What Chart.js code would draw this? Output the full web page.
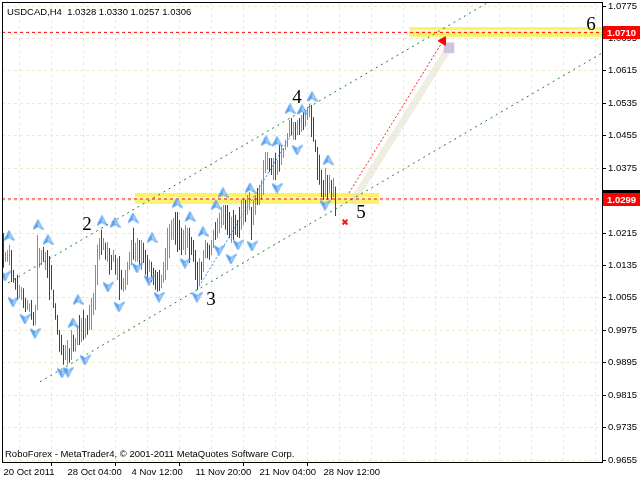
<!DOCTYPE html>
<html>
<head>
<meta charset="utf-8">
<script src="https://cdn.jsdelivr.net/npm/chart.js@4.4.1/dist/chart.umd.min.js"></script>
<style>
  html, body { margin: 0; padding: 0; background: #fff; }
  #wrap { width: 640px; height: 480px; }
</style>
</head>
<body>
<div id="wrap"><canvas id="chart" width="640" height="480"></canvas></div>
<script>
// USDCAD H4 bars, 20 Oct - 29 Nov 2011
const highs = [
  1.0215, 1.0168, 1.0173, 1.0186, 1.0173, 1.0124, 1.0104, 1.0112, 1.0087, 1.0082,
  1.0079, 1.0055, 1.0050, 1.0042, 1.0050, 1.0020, 1.0038, 1.0210, 1.0178, 1.0173,
  1.0181, 1.0168, 1.0173, 1.0158, 1.0136, 1.0075, 1.0042, 1.0013, 0.9976, 0.9964,
  0.9939, 0.9939, 0.9951, 0.9931, 0.9976, 0.9964, 0.9956, 0.9988, 1.0013, 1.0005,
  1.0025, 1.0005, 1.0013, 1.0038, 1.0055, 1.0067, 1.0136, 1.0186, 1.0203, 1.0223,
  1.0203, 1.0191, 1.0193, 1.0178, 1.0161, 1.0173, 1.0161, 1.0153, 1.0158, 1.0124,
  1.0104, 1.0124, 1.0144, 1.0168, 1.0198, 1.0228, 1.0191, 1.0203, 1.0198, 1.0198,
  1.0191, 1.0173, 1.0161, 1.0149, 1.0144, 1.0129, 1.0124, 1.0119, 1.0124, 1.0112,
  1.0144, 1.0178, 1.0228, 1.0237, 1.0247, 1.0252, 1.0267, 1.0267, 1.0247, 1.0228,
  1.0223, 1.0235, 1.0228, 1.0228, 1.0205, 1.0198, 1.0173, 1.0144, 1.0153, 1.0144,
  1.0173, 1.0198, 1.0191, 1.0186, 1.0198, 1.0223, 1.0242, 1.0252, 1.0265, 1.0279,
  1.0284, 1.0284, 1.0284, 1.0267, 1.0255, 1.0272, 1.0260, 1.0247, 1.0279, 1.0297,
  1.0302, 1.0297, 1.0309, 1.0316, 1.0279, 1.0297, 1.0309, 1.0326, 1.0334, 1.0346,
  1.0395, 1.0415, 1.0415, 1.0400, 1.0400, 1.0400, 1.0413, 1.0395, 1.0437, 1.0432,
  1.0425, 1.0445, 1.0462, 1.0494, 1.0499, 1.0489, 1.0489, 1.0494, 1.0499, 1.0506,
  1.0514, 1.0519, 1.0526, 1.0533, 1.0531, 1.0501, 1.0445, 1.0427, 1.0408, 1.0371,
  1.0346, 1.0376, 1.0358, 1.0358, 1.0346, 1.0351, 1.0330
];
const lows = [
  1.0129, 1.0144, 1.0144, 1.0136, 1.0094, 1.0092, 1.0075, 1.0050, 1.0055, 1.0050,
  1.0030, 1.0020, 1.0025, 1.0020, 1.0001, 0.9986, 0.9988, 1.0025, 1.0129, 1.0136,
  1.0144, 1.0124, 1.0104, 1.0050, 1.0075, 1.0030, 1.0001, 0.9964, 0.9922, 0.9914,
  0.9890, 0.9902, 0.9890, 0.9895, 0.9902, 0.9922, 0.9922, 0.9939, 0.9939, 0.9946,
  0.9951, 0.9956, 0.9964, 0.9976, 0.9976, 1.0013, 1.0025, 1.0087, 1.0149, 1.0161,
  1.0173, 1.0149, 1.0144, 1.0112, 1.0124, 1.0144, 1.0112, 1.0099, 1.0050, 1.0075,
  1.0070, 1.0075, 1.0087, 1.0124, 1.0136, 1.0149, 1.0144, 1.0144, 1.0136, 1.0124,
  1.0141, 1.0112, 1.0094, 1.0119, 1.0094, 1.0087, 1.0075, 1.0070, 1.0072, 1.0079,
  1.0092, 1.0099, 1.0124, 1.0153, 1.0198, 1.0198, 1.0186, 1.0168, 1.0173, 1.0161,
  1.0173, 1.0161, 1.0178, 1.0141, 1.0161, 1.0144, 1.0099, 1.0075, 1.0087, 1.0099,
  1.0119, 1.0153, 1.0153, 1.0149, 1.0161, 1.0178, 1.0198, 1.0203, 1.0215, 1.0228,
  1.0235, 1.0223, 1.0210, 1.0203, 1.0191, 1.0198, 1.0210, 1.0205, 1.0203, 1.0223,
  1.0235, 1.0242, 1.0260, 1.0272, 1.0198, 1.0235, 1.0260, 1.0284, 1.0284, 1.0297,
  1.0309, 1.0363, 1.0371, 1.0366, 1.0358, 1.0346, 1.0346, 1.0358, 1.0366, 1.0383,
  1.0400, 1.0420, 1.0427, 1.0452, 1.0457, 1.0445, 1.0445, 1.0457, 1.0457, 1.0464,
  1.0469, 1.0477, 1.0494, 1.0501, 1.0452, 1.0440, 1.0415, 1.0346, 1.0334, 1.0304,
  1.0297, 1.0304, 1.0297, 1.0314, 1.0297, 1.0304, 1.0257
];
// u = bullish bar, d = bearish bar
const dirs = ('duuudddduu' + 'dduudduuuu' + 'dudddddddd' + 'duududuudu' +
  'duduuuuuud' + 'ududdududd' + 'uuuuuduudu' + 'dddudddddu' + 'uuuuuudddd' +
  'uuudddddud' + 'uudduuduuu' + 'uddduddddu' + 'uduuduuduu' + 'uuuddududu' +
  'uuuudududu' + 'duuudddddd' + 'dududud').split('');

// time axis (bar index -> label)
const xTickIdx = [0, 32, 64, 96, 128, 160];
const xTickText = ['20 Oct 2011', '28 Oct 04:00', '4 Nov 12:00', '11 Nov 20:00', '21 Nov 04:00', '28 Nov 12:00'];
const yTickVals = [1.0775, 1.0695, 1.0615, 1.0535, 1.0455, 1.0375, 1.0295, 1.0215,
  1.0135, 1.0055, 0.9975, 0.9895, 0.9815, 0.9735, 0.9655];

// fractals (bar index, price)
const upX = [2.75, 17.25, 22.25, 37.25, 34.75, 49.25, 55.75, 64.75, 74.25, 86.75, 93.25,
  99.75, 106.25, 109.75, 123.25, 131.25, 136.75, 143.25, 149.25, 154.25, 162.25];
const upY = [1.0208, 1.0235, 1.0198, 1.0050, 0.9993, 1.0245, 1.0240, 1.0252, 1.0203, 1.0289, 1.0255,
  1.0218, 1.0284, 1.0314, 1.0326, 1.0442, 1.0440, 1.0521, 1.0519, 1.0551, 1.0395];
const downX = [0.75, 4.75, 10.75, 15.75, 29.25, 32.25, 40.75, 52.25, 57.75, 66.75, 72.75,
  77.75, 90.75, 96.75, 107.75, 113.75, 117.25, 124.25, 136.75, 146.75, 160.75];
const downY = [1.0109, 1.0045, 1.0003, 0.9968, 0.9870, 0.9872, 0.9902, 1.0082, 1.0033, 1.0129, 1.0099,
  1.0057, 1.0141, 1.0057, 1.0173, 1.0151, 1.0186, 1.0183, 1.0326, 1.0420, 1.0284];

// drawn objects
const upperChannel = [[2.25, 1.0092], [242, 1.0783]];
const lowerChannel = [[18.25, 0.9848], [299.25, 1.0659]];
const zigzag = [[96.75, 1.0075], [153.75, 1.0536]];
const levels = [1.0710, 1.0299];
const bandFrom = [202.75, 65.75];
const bandTo = [299.25, 187.75];
const bandHi = [1.0723, 1.0314];
const bandLo = [1.0699, 1.0287];
const targetLine = [[172.75, 1.0314], [219.75, 1.0689]];
const shadowLine = [[174.25, 1.0289], [222.75, 1.0672]];
const crossPt = [[170.75, 1.0242]];
const waveText = ['2', '3', '4', '5', '6'];
const waveX = [41.75, 103.75, 146.75, 178.75, 293.75];
const waveY = [1.0223, 1.0038, 1.0536, 1.0252, 1.0716];
const bidPrice = 1.0306;

const pts = arr => arr.map(([x, y]) => ({ x, y }));

function fractalIcon(up) {
  const c = document.createElement('canvas');
  c.width = 11; c.height = 11;
  const g = c.getContext('2d');
  if (!up) { g.translate(0, 11); g.scale(1, -1); }
  const shape = () => {
    g.beginPath();
    g.moveTo(5.5, 0.5); g.lineTo(10.5, 10); g.lineTo(5.5, 7); g.lineTo(0.5, 10); g.closePath();
  };
  shape();
  g.fillStyle = '#b5d8fb';
  g.fill();
  g.beginPath();
  g.moveTo(5.5, 0.5); g.lineTo(5.5, 7); g.lineTo(0.5, 10); g.closePath();
  g.fillStyle = '#5aa3ef';
  g.fill();
  shape();
  g.strokeStyle = '#4f9cee';
  g.lineWidth = 1;
  g.stroke();
  return c;
}

const FONT = '"Liberation Sans", Arial, sans-serif';
Chart.defaults.font.family = FONT;
Chart.defaults.font.size = 9.5;
Chart.defaults.color = '#000';

const overlay = {
  id: 'overlay',
  beforeDatasetsDraw(chart) {
    const { ctx, chartArea: a, scales: { x, y } } = chart;
    ctx.save();
    ctx.beginPath();
    ctx.rect(a.left, a.top, a.right - a.left, a.bottom - a.top);
    ctx.clip();
    for (let k = 0; k < bandFrom.length; k++) {
      const x0 = x.getPixelForValue(bandFrom[k]);
      const x1 = x.getPixelForValue(bandTo[k]);
      const y0 = y.getPixelForValue(bandHi[k]);
      const y1 = y.getPixelForValue(bandLo[k]);
      ctx.fillStyle = '#f9f36a';
      ctx.fillRect(x0, y0, x1 - x0, y1 - y0);
      const yl = Math.round(y.getPixelForValue(levels[k]));
      ctx.fillStyle = '#fcf9c8';
      ctx.fillRect(x0, yl - 2, x1 - x0, 2);
    }
    ctx.restore();
  },
  afterDatasetsDraw(chart) {
    const { ctx, scales: { x, y } } = chart;
    ctx.save();
    ctx.fillStyle = '#000';
    ctx.font = '19px "Liberation Serif", "Times New Roman", serif';
    ctx.textAlign = 'center';
    ctx.textBaseline = 'alphabetic';
    waveText.forEach((t, k) => {
      ctx.fillText(t, x.getPixelForValue(waveX[k]), y.getPixelForValue(waveY[k]));
    });
    ctx.font = '9.5px ' + FONT;
    ctx.textAlign = 'left';
    ctx.fillText('USDCAD,H4  1.0328 1.0330 1.0257 1.0306', 7, 14.5);
    ctx.fillText('RoboForex - MetaTrader4, \u00a9 2001-2011 MetaQuotes Software Corp.', 5, 457);
    ctx.restore();
  },
  afterDraw(chart) {
    const { ctx, chartArea: a, scales: { y } } = chart;
    ctx.save();
    ctx.strokeStyle = '#000';
    ctx.lineWidth = 1;
    ctx.strokeRect(a.left + 0.5, a.top + 0.5, a.right - a.left, a.bottom - a.top);
    const tag = (price, bg) => {
      const yc = Math.round(y.getPixelForValue(price));
      ctx.fillStyle = bg;
      ctx.fillRect(a.right + 1, yc - 6, 640 - a.right - 1, 13);
      ctx.fillStyle = '#fff';
      ctx.font = 'bold 9.5px ' + FONT;
      ctx.textAlign = 'left';
      ctx.textBaseline = 'middle';
      ctx.fillText(price.toFixed(4), a.right + 5, yc + 1);
    };
    tag(bidPrice, '#000');
    levels.forEach(p => tag(p, '#ff0000'));
    ctx.restore();
  }
};

const bars = highs.map((h, i) => ({ x: i, y: [lows[i], h] }));
const barColors = dirs.map(d => d === 'u' ? '#22d822' : '#e00000');

new Chart(document.getElementById('chart'), {
  type: 'bar',
  data: {
    datasets: [
      {
        type: 'line', order: 1, data: pts(targetLine),
        borderColor: '#ff2020', borderWidth: 1, borderDash: [2, 2],
        pointRadius: [0, 5], pointStyle: 'triangle', pointRotation: 32,
        pointBackgroundColor: '#ff0000', pointBorderColor: '#ff0000'
      },
      {
        type: 'scatter', order: 1, data: pts(crossPt),
        pointStyle: 'crossRot', pointRadius: 3.5, borderWidth: 2,
        borderColor: '#ff1010', backgroundColor: '#ff1010'
      },
      {
        type: 'scatter', order: 2, data: upX.map((v, k) => ({ x: v, y: upY[k] })),
        pointStyle: fractalIcon(true)
      },
      {
        type: 'scatter', order: 2, data: downX.map((v, k) => ({ x: v, y: downY[k] })),
        pointStyle: fractalIcon(false)
      },
      {
        type: 'line', order: 3, data: pts(upperChannel),
        borderColor: '#1e7a3c', borderWidth: 1, borderDash: [2, 4], pointRadius: 0
      },
      {
        type: 'line', order: 3, data: pts(lowerChannel),
        borderColor: '#1e7a3c', borderWidth: 1, borderDash: [2, 4], pointRadius: 0
      },
      ...levels.map(p => ({
        type: 'line', order: 4, data: [{ x: -0.75, y: p }, { x: 299.25, y: p }],
        borderColor: '#ff0000', borderWidth: 1, borderDash: [3, 3], pointRadius: 0
      })),
      {
        order: 5, data: bars, backgroundColor: barColors,
        barThickness: 1, borderWidth: 0, inflateAmount: 0
      },
      {
        type: 'line', order: 6, data: pts(zigzag),
        borderColor: '#3c8ce8', borderWidth: 1, borderDash: [2, 2], pointRadius: 0
      },
      {
        type: 'line', order: 7, data: pts(shadowLine),
        borderColor: 'rgba(226,222,200,0.5)', borderWidth: 7, borderCapStyle: 'butt',
        pointRadius: [0, 2.5], pointStyle: 'rect',
        pointBackgroundColor: '#cfc4dc', pointBorderColor: '#cfc4dc'
      }
    ]
  },
  options: {
    responsive: false,
    devicePixelRatio: 1,
    animation: false,
    layout: { autoPadding: false, padding: { top: 2, left: 2, right: 0, bottom: 0 } },
    plugins: { legend: { display: false }, tooltip: { enabled: false } },
    scales: {
      x: {
        type: 'linear', min: -0.75, max: 299.25, offset: false,
        afterBuildTicks: s => {
          const t = [];
          for (let v = 0; v <= 288; v += 16) t.push({ value: v });
          s.ticks = t;
        },
        afterFit: s => { s.height = 18; s.paddingLeft = 0; s.paddingRight = 0; },
        ticks: {
          autoSkip: false, maxRotation: 0, minRotation: 0, align: 'start', padding: 1,
          callback: v => {
            const k = xTickIdx.indexOf(v);
            return k >= 0 ? xTickText[k] : '';
          }
        },
        grid: {
          color: '#eeead0', tickLength: 4, tickBorderDash: [],
          tickColor: c => (c.tick && xTickIdx.includes(c.tick.value)) ? '#000' : 'rgba(0,0,0,0)'
        },
        border: { display: false, dash: [3, 3] }
      },
      y: {
        position: 'right', min: 0.96501, max: 1.07849,
        afterBuildTicks: s => { s.ticks = yTickVals.map(v => ({ value: v })); },
        afterFit: s => { s.width = 38; s.paddingTop = 0; s.paddingBottom = 0; },
        ticks: { padding: 2, callback: v => v.toFixed(4) },
        grid: { color: '#eeead0', tickLength: 4, tickColor: '#000', tickBorderDash: [] },
        border: { display: false, dash: [3, 3] }
      }
    }
  },
  plugins: [overlay]
});
</script>
</body>
</html>
